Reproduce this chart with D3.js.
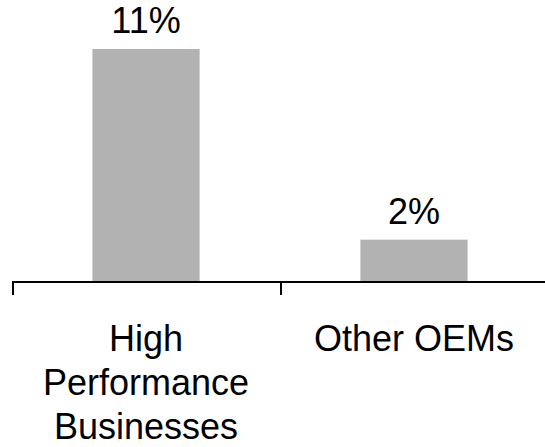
<!DOCTYPE html>
<meta charset="utf-8">
<style>
body {
  margin: 0;
  background-color: #ffffff;
}
.bar {
  fill: #b2b2b2;
}
.axis line {
  stroke: #000;
  stroke-width: 2px;
  shape-rendering: crispEdges;
}
text {
  font-family: "Liberation Sans", Arial, sans-serif;
  font-size: 36px;
  fill: #000;
}
</style>
<svg class="chart" width="545" height="447"></svg>

<script src="https://cdn.jsdelivr.net/npm/d3@7"></script>
<script>
var categories = ["High Performance Businesses", "Other OEMs"];
var labelLines = [["High", "Performance", "Businesses"], ["Other OEMs"]];
var values = [11, 2];
var valueLabels = ["11%", "2%"];

var svg = d3.select(".chart"),
    left = 12,
    right = 548,
    baseline = 282;

var x = d3.scaleBand()
    .domain(categories)
    .range([left, right]);

var y = d3.scaleLinear()
    .domain([0, 11])
    .range([baseline, 49]);

var barW = x.bandwidth() * 0.4;

var data = categories.map(function(c, i) {
  return {cat: c, value: values[i], label: valueLabels[i], lines: labelLines[i]};
});

svg.selectAll(".bar")
    .data(data)
  .enter().append("rect")
    .attr("class", "bar")
    .attr("x", function(d) { return x(d.cat) + (x.bandwidth() - barW) / 2; })
    .attr("width", barW)
    .attr("y", function(d) { return y(d.value); })
    .attr("height", function(d) { return baseline - y(d.value); });

// value labels
svg.selectAll(".valueLabel")
    .data(data)
  .enter().append("text")
    .attr("class", "valueLabel")
    .attr("text-anchor", "middle")
    .attr("x", function(d) { return x(d.cat) + x.bandwidth() / 2; })
    .attr("y", function(d) { return y(d.value) - 16; })
    .text(function(d) { return d.label; });

// axis line + ticks at band boundaries
var axis = svg.append("g").attr("class", "axis");
axis.append("line")
    .attr("x1", left)
    .attr("x2", right)
    .attr("y1", baseline)
    .attr("y2", baseline);
axis.selectAll(".tick")
    .data(categories)
  .enter().append("line")
    .attr("class", "tick")
    .attr("x1", function(d) { return x(d) + 1; })
    .attr("x2", function(d) { return x(d) + 1; })
    .attr("y1", baseline)
    .attr("y2", baseline + 13);

// category labels
var cl = svg.selectAll(".catLabel")
    .data(data)
  .enter().append("text")
    .attr("class", "catLabel")
    .attr("text-anchor", "middle")
    .attr("y", 351);
cl.selectAll("tspan")
    .data(function(d) { return d.lines.map(function(l) { return {cat: d.cat, t: l}; }); })
  .enter().append("tspan")
    .attr("x", function(d) { return x(d.cat) + x.bandwidth() / 2; })
    .attr("dy", function(d, i) { return i === 0 ? 0 : 44; })
    .text(function(d) { return d.t; });
</script>
